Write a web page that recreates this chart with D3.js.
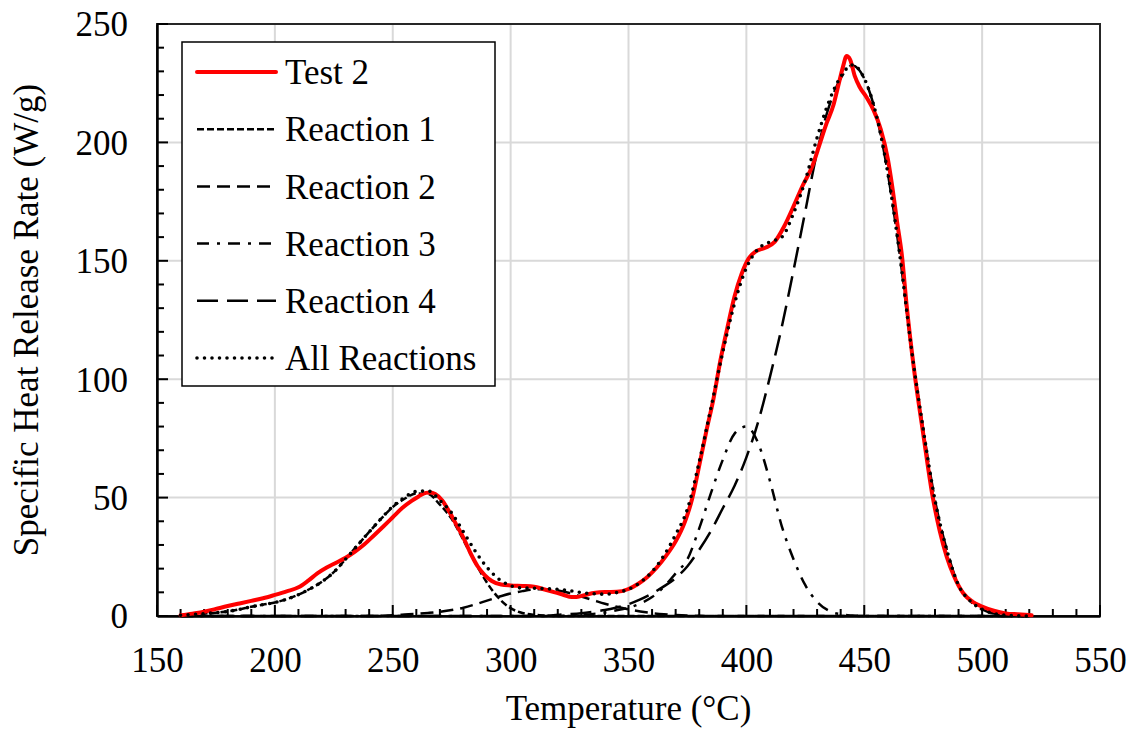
<!DOCTYPE html>
<html>
<head>
<meta charset="utf-8">
<script src="https://cdn.jsdelivr.net/npm/d3@7"></script>
<style>
  body { margin: 0; background: #fff; }
  svg text { font-family: "Times New Roman", "Liberation Serif", "DejaVu Serif", serif; fill: #000; }
</style>
</head>
<body>
<div id="chart"></div>
<script>
// Test 2 measured curve
const testTemp = [160,165,170,175,180,185,190,195,200,205,210,214,218,222,226,230,234,238,242,246,250,254,258,261,264,266,268,271,274,277,280,283,286,289,292,296,300,305,310,314,318,322,326,328,332,336,340,345,350,354,358,362,366,370,374,377,380,383,386,389,392,395,398,401,404,408,412,416,420,424,428,431,434,437,439,441,442.5,444,446,448,451,454,457,460,462,464,466,468,471,475,479,482,485,488,492,496,500,505,510,515,521];
const test2 = [0.3,1.0,1.8,3.0,4.2,5.3,6.4,7.5,8.9,10.4,12.1,14.8,18,20.5,22.5,24.6,27.2,30.3,34,37.8,41.7,45.6,48.6,50.5,52,52.2,51.5,48.8,44,38.5,33,26.5,21,17.3,14.8,13.3,12.9,12.7,12.4,11.3,10.2,9.1,8.0,8.0,9.0,9.8,10.1,10.2,11.4,13.5,16.5,20.5,25.5,31.5,40,49.5,63.5,78,91.5,108,122,135,144.5,151,154,155.5,158,164.5,173,182,190,199,208,216,224,232,236.5,235,228,223.5,219,213.5,205.5,193,180.5,166,152,131,105,77,50.5,36,25,17,9.6,6,4.0,2.2,1.1,0.7,0.3];

// fitted reactions, shared temperature grid
const fitTemp = [160,165,170,175,180,185,190,195,200,205,210,215,220,225,230,235,240,245,250,255,260,265,270,275,280,285,290,295,300,305,310,315,320,325,330,335,340,345,350,355,360,365,370,375,380,385,390,395,400,405,410,415,420,425,430,435,440,445,450,455,460,465,470,475,480,485,490,495,500,505,510,515,520];
const reaction1 = [0.3,0.6,1,1.4,1.9,2.8,3.9,4.8,5.7,7.1,9,11.5,14.5,18.5,24,29.8,35.5,41,46,49.5,51.7,51.5,47,41,32,22.5,14,7.5,3.3,1.3,0.5,0.2,0,0,0,0,0,0,0,0,0,0,0,0,0,0,0,0,0,0,0,0,0,0,0,0,0,0,0,0,0,0,0,0,0,0,0,0,0,0,0,0,0];
const reaction2 = [0,0,0,0,0,0,0,0,0,0,0,0,0,0,0,0,0,0.1,0.3,0.6,0.9,1.3,1.8,2.5,3.5,4.9,6.5,8.1,9.5,10.5,11.2,11.3,10.8,9.7,8.2,6.7,5.2,3.9,2.8,1.9,1.2,0.7,0.4,0.2,0.1,0,0,0,0,0,0,0,0,0,0,0,0,0,0,0,0,0,0,0,0,0,0,0,0,0,0,0,0];
const reaction3 = [0,0,0,0,0,0,0,0,0,0,0,0,0,0,0,0,0,0,0,0,0,0,0,0,0,0,0,0,0,0,0,0,0,0.2,0.5,0.9,1.5,2.4,3.5,5.3,8,12.3,18,24,37,52,66,77,80,73,57,38,24,13,6,2.2,0.7,0.2,0,0,0,0,0,0,0,0,0,0,0,0,0,0,0];
const reaction4 = [0,0,0,0,0,0,0,0,0,0,0,0,0,0,0,0,0,0,0,0,0,0,0,0,0,0,0,0,0,0,0,0,0.5,0.8,1.2,1.8,2.5,3.6,5,7,9.5,12.5,16,21,28,36,45.5,55,67,82,101,122,146,171,196,215,227,232.5,227,212,187,153,113,79,49,28,13,6.3,2.8,1,0.3,0.1,0];
const allReactions = [0.3,0.6,1,1.4,1.9,2.8,3.9,4.8,5.7,7.1,9,11.5,14.5,18.5,24,29.8,35.5,41.1,46.3,50.1,52.6,52.8,48.8,43.5,35.5,27.4,20.5,15.6,12.8,11.8,11.7,11.5,11.3,10.7,9.9,9.4,9.2,9.9,11.3,14.2,18.7,25.5,34.4,45.2,65.1,88,111.5,132,147,155,158,160,170,184,202,217.2,227.7,232.7,227,212,187,153,113,79,49,28,13,6.3,2.8,1,0.3,0.1,0];

const xTicks = [150,200,250,300,350,400,450,500,550];
const yTicks = [0,50,100,150,200,250];

const W = 1135, H = 733;
const margin = { top: 24, right: 35, bottom: 117, left: 157 };
const width = W - margin.left - margin.right,
      height = H - margin.top - margin.bottom;
const FONT = "'Times New Roman', 'Liberation Serif', 'DejaVu Serif', serif";

const svg = d3.select("#chart").append("svg")
  .attr("width", W).attr("height", H);

const g = svg.append("g")
  .attr("transform", `translate(${margin.left},${margin.top})`);

const x = d3.scaleLinear().domain([150, 550]).range([0, width]);
const y = d3.scaleLinear().domain([0, 250]).range([height, 0]);

// gridlines
g.append("g").selectAll("line").data(xTicks.slice(1, -1)).join("line")
  .attr("x1", d => x(d)).attr("x2", d => x(d))
  .attr("y1", 0).attr("y2", height)
  .attr("stroke", "#d9d9d9").attr("stroke-width", 2);
g.append("g").selectAll("line").data(yTicks.slice(1, -1)).join("line")
  .attr("y1", d => y(d)).attr("y2", d => y(d))
  .attr("x1", 0).attr("x2", width)
  .attr("stroke", "#d9d9d9").attr("stroke-width", 2);

// frame
g.append("rect")
  .attr("width", width).attr("height", height)
  .attr("fill", "none").attr("stroke", "#262626").attr("stroke-width", 2);

// minor + major ticks, pointing inward
const minorX = d3.range(150, 551, 10);
const minorY = d3.range(0, 251, 10);
g.append("g").selectAll("line").data(minorX).join("line")
  .attr("x1", d => x(d)).attr("x2", d => x(d))
  .attr("y1", height).attr("y2", d => height - (d % 50 === 0 ? 11 : 7))
  .attr("stroke", "#000").attr("stroke-width", 2);
g.append("g").selectAll("line").data(minorY).join("line")
  .attr("y1", d => y(d)).attr("y2", d => y(d))
  .attr("x1", 0).attr("x2", d => (d % 50 === 0 ? 11 : 7))
  .attr("stroke", "#000").attr("stroke-width", 2);

// axes (labels only)
const xAxis = g.append("g")
  .attr("transform", `translate(0,${height})`)
  .call(d3.axisBottom(x).tickValues(xTicks).tickSize(0).tickPadding(0))
  .attr("font-family", FONT);
xAxis.select(".domain").attr("stroke", "#000").attr("stroke-width", 2.5);
xAxis.selectAll("text").attr("font-size", 35).attr("dy", null).attr("y", 56);

const yAxis = g.append("g")
  .call(d3.axisLeft(y).tickValues(yTicks).tickSize(0).tickPadding(0))
  .attr("font-family", FONT);
yAxis.select(".domain").attr("stroke", "#000").attr("stroke-width", 2.5);
yAxis.selectAll("text").attr("font-size", 35).attr("x", -29).attr("dy", "0.34em");

// axis titles
svg.append("text")
  .attr("x", margin.left + width / 2).attr("y", 720)
  .attr("text-anchor", "middle").attr("font-size", 35)
  .attr("font-family", FONT)
  .text("Temperature (°C)");
svg.append("text")
  .attr("transform", `translate(38,${margin.top + height / 2}) rotate(-90)`)
  .attr("text-anchor", "middle").attr("font-size", 35)
  .attr("font-family", FONT)
  .text("Specific Heat Release Rate (W/g)");

// series
const series = [
  { name: "Test 2", t: testTemp, v: test2, color: "#ff0000", w: 4, dash: null, cap: "round" },
  { name: "Reaction 1", t: fitTemp, v: reaction1, color: "#000", w: 2.5, dash: "7,3", cap: "butt" },
  { name: "Reaction 2", t: fitTemp, v: reaction2, color: "#000", w: 2.5, dash: "13,7", cap: "butt" },
  { name: "Reaction 3", t: fitTemp, v: reaction3, color: "#000", w: 2.5, dash: "12,8,3,8", cap: "butt" },
  { name: "Reaction 4", t: fitTemp, v: reaction4, color: "#000", w: 2.5, dash: "21,9", cap: "butt" },
  { name: "All Reactions", t: fitTemp, v: allReactions, color: "#000", w: 3.6, dash: "0,7.5", cap: "round" }
];

const line = d3.line()
  .x(d => x(d[0])).y(d => y(d[1]))
  .curve(d3.curveMonotoneX);

const plot = g.append("g");
// fits first, then the test curve, then the total on top
[1, 2, 3, 4, 0, 5].forEach(i => {
  const s = series[i];
  plot.append("path")
    .datum(s.t.map((t, j) => [t, s.v[j]]))
    .attr("d", line)
    .attr("fill", "none")
    .attr("stroke", s.color)
    .attr("stroke-width", s.w)
    .attr("stroke-linecap", s.cap)
    .attr("stroke-linejoin", "round")
    .attr("stroke-dasharray", s.dash);
});

// legend
const legend = svg.append("g").attr("transform", "translate(182,42)");
legend.append("rect")
  .attr("width", 313).attr("height", 344)
  .attr("fill", "#fff").attr("stroke", "#000").attr("stroke-width", 1.5);
series.forEach((s, i) => {
  const cy = 30 + i * 57.2;
  legend.append("line")
    .attr("x1", 15).attr("x2", 94).attr("y1", cy).attr("y2", cy)
    .attr("stroke", s.color).attr("stroke-width", s.w)
    .attr("stroke-linecap", s.cap)
    .attr("stroke-dasharray", s.dash);
  legend.append("text")
    .attr("x", 103).attr("y", cy).attr("dy", "0.35em")
    .attr("font-size", 35)
    .attr("font-family", FONT)
    .text(s.name);
});
</script>
</body>
</html>
